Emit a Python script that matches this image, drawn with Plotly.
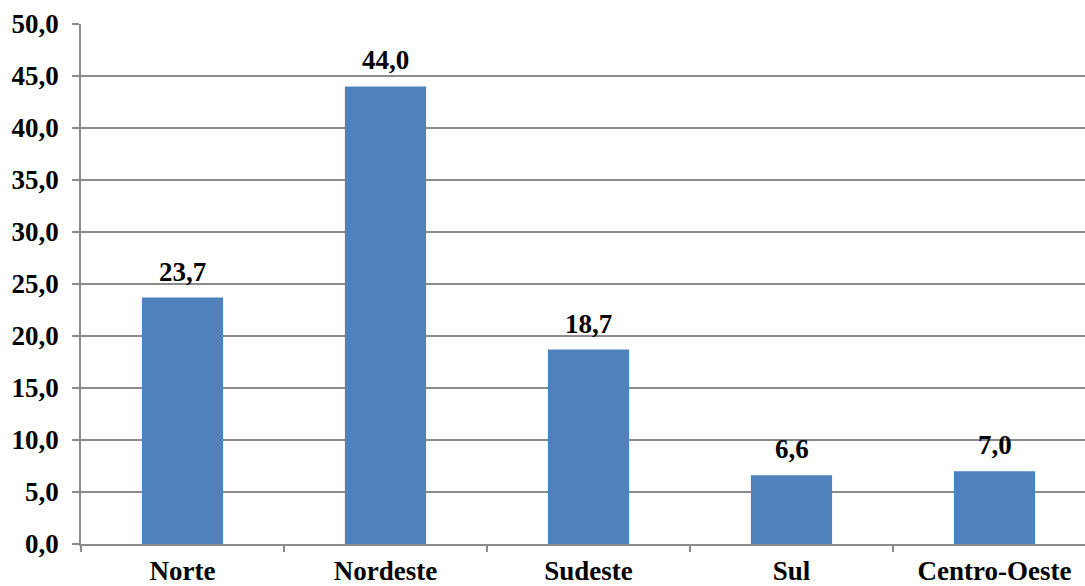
import plotly.graph_objects as go

regions = ["Norte", "Nordeste", "Sudeste", "Sul", "Centro-Oeste"]
values = [23.7, 44.0, 18.7, 6.6, 7.0]
y_ticks = [0, 5, 10, 15, 20, 25, 30, 35, 40, 45, 50]

FONT = "Liberation Serif"
GRID = "#8c8c8c"
SIZE = 27

x_pos = list(range(len(regions)))


def fmt(v):
    return f"{v:.1f}".replace(".", ",")


fig = go.Figure(
    go.Bar(
        x=x_pos,
        y=values,
        width=0.4,
        marker=dict(color="#4F81BD", line=dict(width=0)),
        hoverinfo="skip",
    )
)

# value labels above each bar
for xi, v in zip(x_pos, values):
    fig.add_annotation(
        x=xi, y=v, xref="x", yref="y",
        text=f"<b>{fmt(v)}</b>",
        showarrow=False,
        yanchor="bottom",
        yshift=9,
        font=dict(family=FONT, size=SIZE, color="black"),
    )

fig.update_layout(
    width=1085,
    height=586,
    margin=dict(l=81, r=0, t=24, b=42),
    plot_bgcolor="white",
    paper_bgcolor="white",
    showlegend=False,
    font=dict(family=FONT, size=SIZE, color="black"),
)

fig.update_xaxes(
    range=[-0.5, -0.5 + 1004 / 203],
    tickvals=x_pos,
    ticktext=[f"<b>{r}</b>" for r in regions],
    ticks="",
    ticklabelstandoff=2,
    showgrid=False,
    showline=True,
    linecolor=GRID,
    linewidth=1.5,
    minor=dict(tick0=-0.5, dtick=1, ticks="outside", ticklen=6,
               tickcolor=GRID, tickwidth=1.5, showgrid=False),
    tickfont=dict(family=FONT, size=SIZE, color="black"),
    automargin=False,
    fixedrange=True,
)

fig.update_yaxes(
    range=[0, 50],
    tickvals=y_ticks,
    ticktext=[f"<b>{fmt(t)}</b>" for t in y_ticks],
    ticks="outside",
    ticklen=7,
    tickcolor=GRID,
    tickwidth=1.5,
    showgrid=True,
    gridcolor=GRID,
    gridwidth=1.5,
    showline=True,
    linecolor=GRID,
    linewidth=1.5,
    zeroline=False,
    tickfont=dict(family=FONT, size=SIZE, color="black"),
    ticklabelstandoff=8,
    automargin=False,
    fixedrange=True,
)

fig.write_html("out.html")
